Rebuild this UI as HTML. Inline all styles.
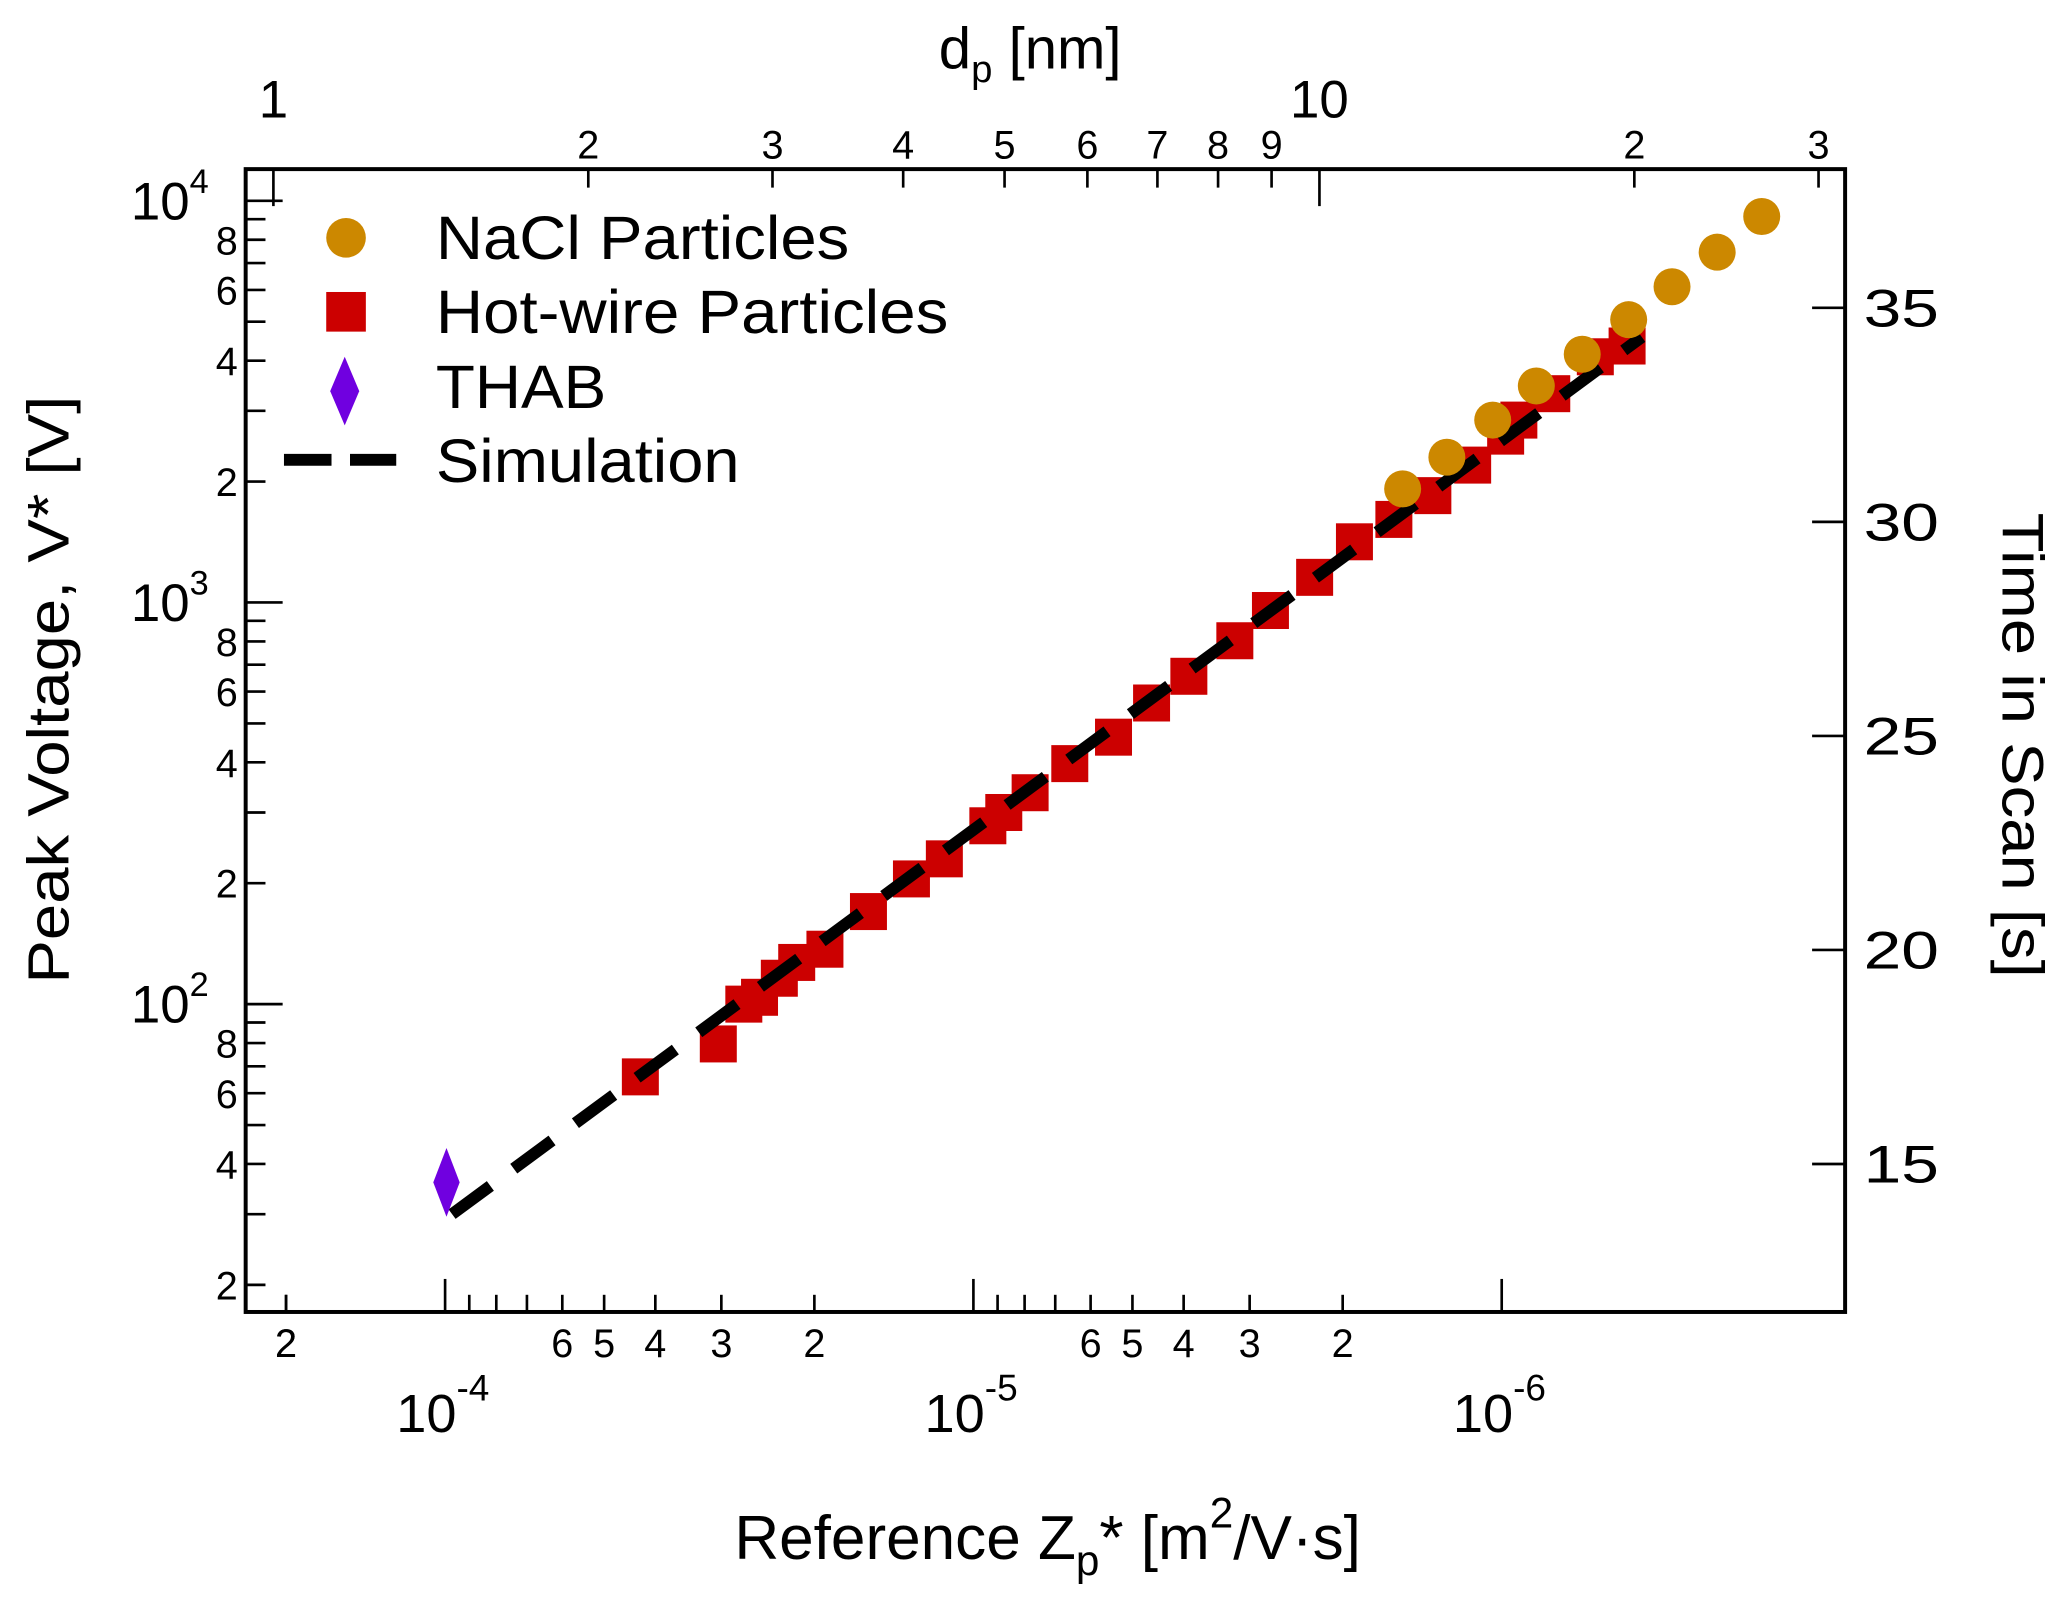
<!DOCTYPE html>
<html><head><meta charset="utf-8"><style>
html,body{margin:0;padding:0;background:#fff;}
svg{display:block;font-family:"Liberation Sans",Arial,sans-serif;}
</style></head><body>
<svg id="chart" width="2067" height="1600" viewBox="0 0 1565 1211" preserveAspectRatio="none" xmlns="http://www.w3.org/2000/svg">
<rect x="0" y="0" width="1565" height="1211" fill="#fff"/>
<g id="axes"></g>
<g id="series"></g>
<g id="legend">
  <circle cx="262" cy="180" r="15" fill="#cc8800"/>
  <text x="330" y="196" font-size="46" textLength="313" lengthAdjust="spacingAndGlyphs">NaCl Particles</text>
  <rect x="247" y="221" width="30" height="30" fill="#cc0000"/>
  <text x="330" y="252" font-size="46" textLength="388" lengthAdjust="spacingAndGlyphs">Hot-wire Particles</text>
  <polygon points="261,270 272,296 261,322 250,296" fill="#7000e0"/>
  <text x="330" y="309" font-size="46" textLength="129" lengthAdjust="spacingAndGlyphs">THAB</text>
  <line x1="215" y1="348" x2="300" y2="348" stroke="#000" stroke-width="9" stroke-dasharray="36,14"/>
  <text x="330" y="365" font-size="46" textLength="230" lengthAdjust="spacingAndGlyphs">Simulation</text>
</g>
</svg>
<script>
// ---- data ----
const naclZ = [1.54e-6,1.27e-6,1.04e-6,8.6e-7,7.04e-7,5.75e-7,4.76e-7,3.91e-7,3.22e-7];
const naclV = [1918,2300,2845,3460,4150,5060,6110,7450,9140];
const hotZ = [4.27e-5,3.04e-5,2.72e-5,2.54e-5,2.33e-5,2.16e-5,1.91e-5,1.58e-5,1.31e-5,1.135e-5,9.39e-6,8.76e-6,7.81e-6,6.57e-6,5.43e-6,4.6e-6,3.91e-6,3.2e-6,2.74e-6,2.26e-6,1.9e-6,1.6e-6,1.35e-6,1.135e-6,9.83e-7,9.28e-7,8.04e-7,6.65e-7,5.79e-7];
const hotV = [65.9,79.6,100,104,116,127,137,170,205,230,278,300,336,397,462,562,655,803,955,1155,1416,1610,1845,2198,2595,2845,3310,4090,4350];
const thabZ = [9.94e-5];
const thabV = [36];
const simZ = [9.7e-5,5.43e-7];
const simV = [30,4580];
const yMajorTicks = [100,1000,10000];
const yMinorLabels = [2,4,6,8];
const xMajorExps = [-4,-5,-6];
const xMinorLabelDigits = [2,3,4,5,6];
const topMinorTicks = [2,3,4,5,6,7,8,9,20,30];
const topLabels = ["2","3","4","5","6","7","8","9","2","3"];
const rightTicks = [15,20,25,30,35];

// ---- axis functions ----
const L=186,R=1397,T=128,B=993;
const xs = z => 337 + 400*(-Math.log10(z) - 4);
const ys = v => 152 + 304*(4 - Math.log10(v));
const xd = d => 207 + 792*Math.log10(d);
const yt = t => 881 - (t-15)*32.4;
const NS="http://www.w3.org/2000/svg";
const axes=document.getElementById('axes'), series=document.getElementById('series');
function mk(tag,attrs,parent,txt){const e=document.createElementNS(NS,tag);for(const k in attrs)e.setAttribute(k,attrs[k]);if(txt!==undefined)e.textContent=txt;parent.appendChild(e);return e;}

let e;
e=mk('rect',{x:L,y:T,width:R-L,height:B-T,fill:'none',stroke:'#000','stroke-width':3},axes);



// left y ticks
for(let dec=1;dec<=4;dec++){
  for(let m=1;m<=9;m++){
    const v=m*Math.pow(10,dec);
    if(v<20||v>10000) continue;
    const y=ys(v), major=(m===1);
    e=mk('line',{x1:L,y1:y,x2:L+(major?28:15),y2:y,stroke:'#000','stroke-width':2},axes);
    
    
    if(major){
      e=mk('text',{x:L-28,y:y+14,'font-size':40,'text-anchor':'end'},axes,'10');
      
      
      mk('tspan',{dy:-20,'font-size':26},e,String(dec));
    } else if(yMinorLabels.indexOf(m)>=0){
      e=mk('text',{x:L-6,y:y+11,'font-size':30,'text-anchor':'end'},axes,String(m));
      
      
    }
  }
}
// bottom x ticks (reversed log)
for(let dec=-6;dec<=-4;dec++){
  for(let m=1;m<=9;m++){
    const z=m*Math.pow(10,dec);
    const x=xs(z);
    if(x<L+5||x>R-5) continue;
    const major=(m===1);
    e=mk('line',{x1:x,y1:B,x2:x,y2:B-(major?25:13),stroke:'#000','stroke-width':2},axes);
    
    
    if(!major && xMinorLabelDigits.indexOf(m)>=0){
      e=mk('text',{x:x,y:B+34,'font-size':30,'text-anchor':'middle'},axes,String(m));
      
      
    }
  }
}
e=mk('line',{x1:xs(2e-4),y1:B,x2:xs(2e-4),y2:B-13,stroke:'#000','stroke-width':2},axes);


e=mk('text',{x:xs(2e-4),y:B+34,'font-size':30,'text-anchor':'middle'},axes,'2');


xMajorExps.forEach(p=>{
  const x=xs(Math.pow(10,p));
  e=mk('text',{x:x-37,y:1084,'font-size':41},axes,'10');
  
  
  mk('tspan',{dy:-24,'font-size':28},e,String(p));
});
// top axis
[1,10].forEach(d=>{
  e=mk('line',{x1:xd(d),y1:T,x2:xd(d),y2:T+28,stroke:'#000','stroke-width':2},axes);
  
  
  e=mk('text',{x:xd(d),y:89,'font-size':40,'text-anchor':'middle'},axes,String(d));
  
  
});
topMinorTicks.forEach((d,i)=>{
  e=mk('line',{x1:xd(d),y1:T,x2:xd(d),y2:T+14,stroke:'#000','stroke-width':2},axes);
  
  
  e=mk('text',{x:xd(d),y:120,'font-size':30,'text-anchor':'middle'},axes,topLabels[i]);
  
  
});
// right axis
rightTicks.forEach(t=>{
  const y=yt(t);
  e=mk('line',{x1:R,y1:y,x2:R-25,y2:y,stroke:'#000','stroke-width':2},axes);
  
  
  e=mk('text',{x:1411,y:y+14,'font-size':40,textLength:57,lengthAdjust:'spacingAndGlyphs'},axes,String(t));
  
  
});
// titles
e=mk('text',{x:0,y:0,'font-size':44,'text-anchor':'middle',textLength:445,lengthAdjust:'spacingAndGlyphs',transform:'translate(52,522) rotate(-90)'},axes,'Peak Voltage, V* [V]');


e=mk('text',{x:0,y:0,'font-size':44,'text-anchor':'middle',textLength:352,lengthAdjust:'spacingAndGlyphs',transform:'translate(1516,564) rotate(90)'},axes,'Time in Scan [s]');


e=mk('text',{x:556,y:1180,'font-size':47},axes,'Reference Z');


mk('tspan',{dy:12,'font-size':32},e,'p');
mk('tspan',{dy:-12},e,'* [m');
mk('tspan',{dy:-24,'font-size':32},e,'2');
mk('tspan',{dy:24},e,'/V·s]');
e=mk('text',{x:780,y:52,'font-size':44,'text-anchor':'middle'},axes,'d');


mk('tspan',{dy:10,'font-size':29},e,'p');
mk('tspan',{dy:-10},e,' [nm]');

// series: hot-wire squares
hotZ.forEach((z,i)=>{
  const x=xs(z),y=ys(hotV[i]);
  e=mk('rect',{x:x-14,y:y-14,width:28,height:28,fill:'#cc0000'},series);
  
  
});
// simulation
e=mk('line',{x1:xs(simZ[0]),y1:ys(simV[0]),x2:xs(simZ[1]),y2:ys(simV[1]),stroke:'#000','stroke-width':9,'stroke-dasharray':'36,22'},series);


// THAB
thabZ.forEach((z,i)=>{
  const x=xs(z),y=ys(thabV[i]);
  e=mk('polygon',{points:`${x},${y-26} ${x+10},${y} ${x},${y+26} ${x-10},${y}`,fill:'#7000e0'},series);
  
  
});
// NaCl
naclZ.forEach((z,i)=>{
  e=mk('circle',{cx:xs(z),cy:ys(naclV[i]),r:14,fill:'#cc8800'},series);
  
  
});
</script>
</body></html>
